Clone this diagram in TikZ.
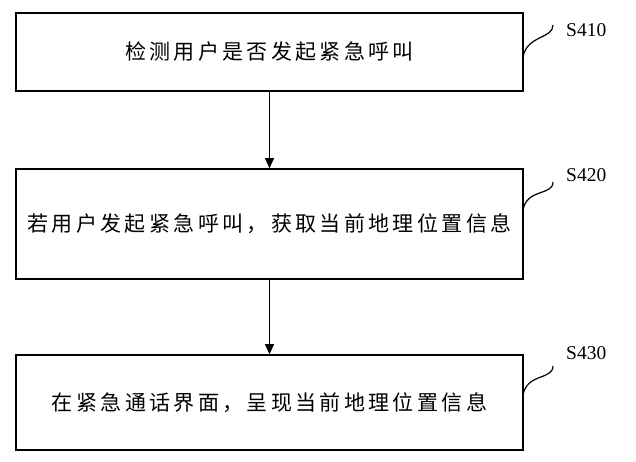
\documentclass[tikz,border=0pt]{standalone}
\usepackage{fontspec}
\setmainfont{Liberation Serif}
\newfontfamily\cjk[LetterSpace=16]{Noto Sans CJK SC}
\usetikzlibrary{arrows.meta,calc}
\begin{document}
\begin{tikzpicture}[x=1pt, y=-1pt,
        stepbox/.style={draw, line width=1.6pt, minimum width=507pt, inner sep=0pt,
            font=\cjk\fontsize{21}{24}\selectfont},
        flow/.style={-{Triangle[length=10pt, width=9pt]}, line width=0.8pt},
        tag/.style={font=\fontsize{19.5}{22}\selectfont, anchor=west, inner sep=0pt},
        wave/.style={line width=1.2pt}]
    \useasboundingbox (0,0) rectangle (636,461);

    % Steps
    \node[stepbox, minimum height=78pt] (box1) at (269.5,52) {检测用户是否发起紧急呼叫};
    \node[stepbox, minimum height=110pt] (box2) at (269.5,224) {若用户发起紧急呼叫，获取当前地理位置信息};
    \node[stepbox, minimum height=95pt] (box3) at (269.5,402.5) {在紧急通话界面，呈现当前地理位置信息};

    % Arrows
    \draw[flow] (box1) -- (box2);
    \draw[flow] (box2) -- (box3);

    % Step labels
    \node[tag] (s410) at (566,30) {S410};
    \node[tag] (s420) at (566,175) {S420};
    \node[tag] (s430) at (566,353) {S430};

    \coordinate (a1) at (523,57);  \coordinate (b1) at (553,25);
    \coordinate (a2) at (523,210); \coordinate (b2) at (553,182);
    \coordinate (a3) at (523,395); \coordinate (b3) at (553,366);

    \foreach \i in {1,2,3} {
        \draw[wave] (a\i) .. controls ($(a\i)+(4,-22)$) and ($(b\i)+(0,14)$) .. (b\i);
    }
\end{tikzpicture}
\end{document}
